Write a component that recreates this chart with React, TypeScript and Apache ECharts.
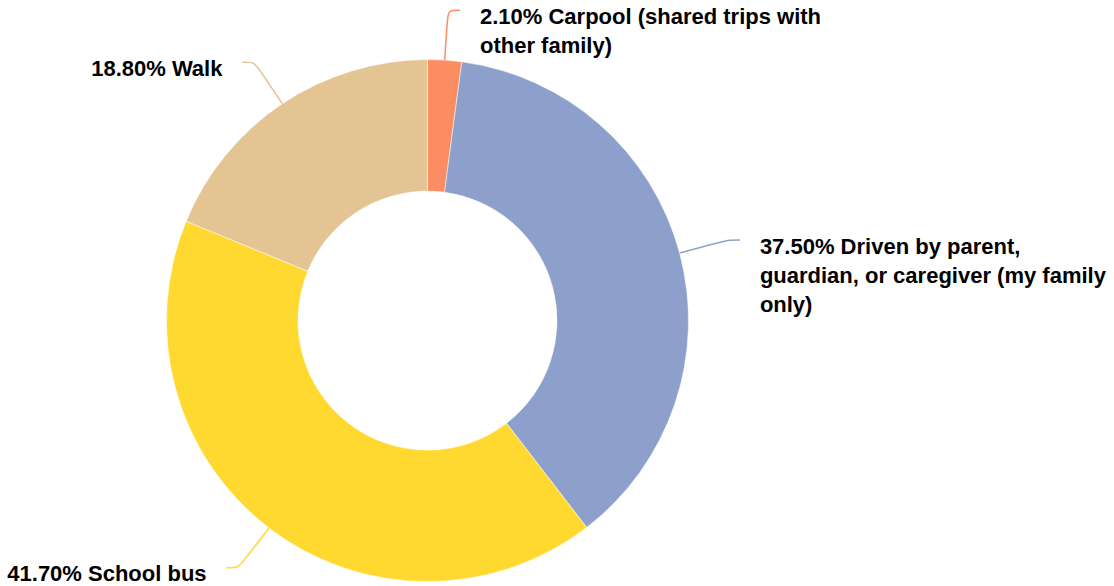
import React, { useEffect, useRef } from "react";
import * as echarts from "echarts";

const categories = [
  "Carpool (shared trips with other family)",
  "Driven by parent, guardian, or caregiver (my family only)",
  "School bus",
  "Walk",
];
const values = [2.1, 37.5, 41.7, 18.8];
const colors = ["#FC8D62", "#8DA0CB", "#FFD92F", "#E5C494"];

const GAP = 20;

export default function App() {
  const ref = useRef<HTMLDivElement>(null);
  useEffect(() => {
    if (!ref.current) return;
    const chart = echarts.init(ref.current, null, { renderer: "svg" });
    chart.setOption({
      animation: false,
      backgroundColor: "#ffffff",
      series: [
        {
          type: "pie",
          center: [427.5, 320.6],
          radius: [129.5, 261],
          startAngle: 90,
          clockwise: true,
          avoidLabelOverlap: false,
          data: categories.map((name, i) => ({
            name,
            value: values[i],
            itemStyle: { color: colors[i] },
            labelLine: { lineStyle: { color: colors[i] } },
          })),
          itemStyle: { borderColor: "#ffffff", borderWidth: 0.5 },
          label: {
            show: true,
            position: "outside",
            formatter: (p: any) => `${Number(p.value).toFixed(2)}% ${p.name}`,
            color: "#000000",
            fontFamily: "'Liberation Sans', Arial, Helvetica, sans-serif",
            fontWeight: "bold",
            fontSize: 22,
            lineHeight: 29,
            width: 355,
            overflow: "break",
          },
          labelLine: {
            show: true,
            length: 50,
            length2: 12,
            smooth: 0.3,
            lineStyle: { width: 1.5 },
          },
          labelLayout: (p: any) => {
            const pts = p.labelLinePoints;
            if (!pts || pts.length < 3) return {};
            const end = pts[pts.length - 1];
            const right = end[0] >= pts[0][0];
            return {
              x: end[0] + (right ? GAP : -GAP),
              y: end[1] - 8.5,
              align: right ? "left" : "right",
              verticalAlign: "top",
              labelLinePoints: pts,
            };
          },
        },
      ],
    });
    return () => chart.dispose();
  }, []);
  return (
    <div
      ref={ref}
      style={{ position: "fixed", left: 0, top: 0, width: 1114, height: 586 }}
    />
  );
}
